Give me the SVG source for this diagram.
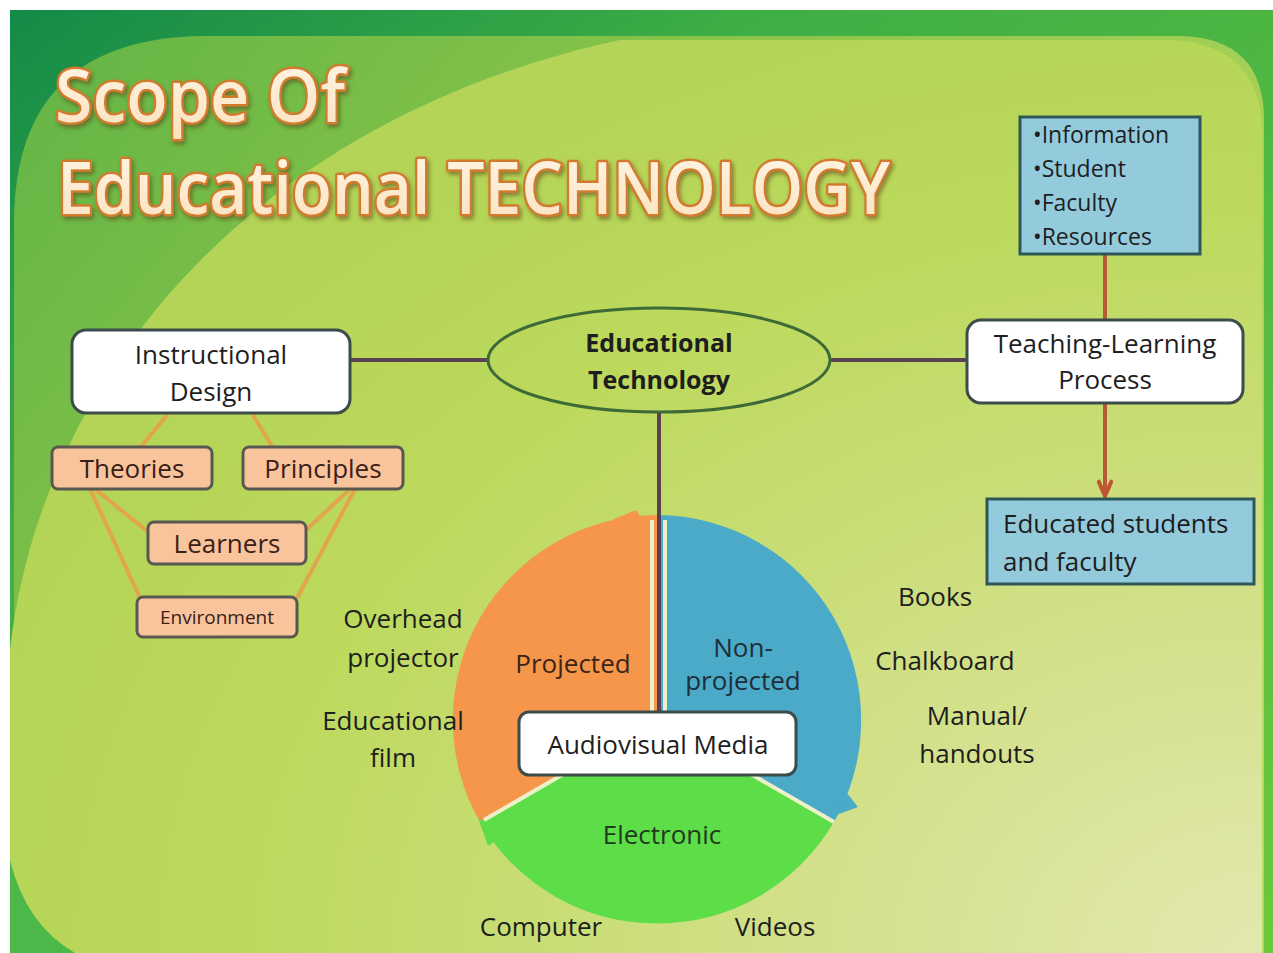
<svg xmlns="http://www.w3.org/2000/svg" width="1273" height="953" viewBox="0 0 1273 953">
<defs>
<linearGradient id="bgDark" x1="0" y1="0" x2="1" y2="1">
<stop offset="0" stop-color="#138a48"/>
<stop offset="0.3" stop-color="#3fae45"/>
<stop offset="1" stop-color="#6cc83c"/>
</linearGradient>
<linearGradient id="panelMid" x1="0" y1="0" x2="1" y2="0.6">
<stop offset="0" stop-color="#62b446"/>
<stop offset="0.45" stop-color="#8cc64a"/>
<stop offset="1" stop-color="#b8d860"/>
</linearGradient>
<radialGradient id="panelLight" cx="1" cy="1" r="1.1">
<stop offset="0" stop-color="#e3e8b0"/>
<stop offset="0.35" stop-color="#d2e088"/>
<stop offset="0.75" stop-color="#bcd95c"/>
<stop offset="1" stop-color="#b3d456"/>
</radialGradient>
<linearGradient id="titleFill" x1="0" y1="0" x2="0" y2="1">
<stop offset="0" stop-color="#fff8ea"/>
<stop offset="1" stop-color="#fbe0bc"/>
</linearGradient>
<filter id="shadow" x="-5%" y="-20%" width="110%" height="140%">
<feDropShadow dx="2" dy="3" stdDeviation="2" flood-color="#5a3a10" flood-opacity="0.55"/>
</filter>
<marker id="vhead" viewBox="0 0 20 16" refX="18" refY="8" markerWidth="20" markerHeight="16" markerUnits="userSpaceOnUse" orient="auto">
<path d="M2 1 L18 8 L2 15" fill="none" stroke="#c2552f" stroke-width="4"/>
</marker>
<style>
.t{font-family:"Open Sans","Noto Sans","Liberation Sans",sans-serif;fill:#1e1e1e;}
.title{font-family:"Open Sans","Noto Sans","Liberation Sans",sans-serif;font-size:72px;font-weight:600;fill:url(#titleFill);stroke:#d27a2e;stroke-width:5;stroke-linejoin:round;paint-order:stroke;}
.wbox{fill:#ffffff;stroke:#3c4b4b;stroke-width:3;}
.bbox{fill:#93cbdd;stroke:#2e5858;stroke-width:3;}
.pbox{fill:#f9c49c;stroke:#585850;stroke-width:3;}
.conn{stroke:#5b3f52;stroke-width:4;fill:none;}
.oline{stroke:#e2a54e;stroke-width:4;fill:none;}
.rline{stroke:#b85a3a;stroke-width:4;fill:none;}
.gap{stroke:#eef1c8;stroke-width:4;fill:none;}
</style>
</defs>

<!-- background -->
<g id="background">
<rect x="0" y="0" width="1273" height="953" fill="#ffffff"/>
<rect x="10" y="10" width="1263" height="943" fill="url(#bgDark)"/>
<path d="M14 953 L14 220 Q16 40 200 36 L1180 36 Q1264 38 1264 120 L1264 953 Z" fill="url(#panelMid)"/>
<path d="M10 953 L10 650 C40 380 250 120 620 40 L1170 40 Q1260 44 1262 130 L1262 953 Z" fill="url(#panelLight)"/>
<path d="M10 860 Q26 925 75 953 L10 953 Z" fill="#4db84a"/>
</g>

<!-- title -->
<g id="title" filter="url(#shadow)">
<text class="title" x="55" y="122" textLength="290" lengthAdjust="spacingAndGlyphs">Scope Of</text>
<text class="title" x="57" y="214" textLength="833" lengthAdjust="spacingAndGlyphs">Educational TECHNOLOGY</text>
</g>

<!-- connectors -->
<g id="connectors">
<line class="conn" x1="350" y1="360" x2="488" y2="360"/>
<line class="conn" x1="830" y1="360" x2="967" y2="360"/>
<line class="rline" x1="1105" y1="254" x2="1105" y2="320"/>
<line class="rline" x1="1105" y1="403" x2="1105" y2="496" marker-end="url(#vhead)"/>
<line class="oline" x1="167" y1="415" x2="140" y2="448"/>
<line class="oline" x1="253" y1="415" x2="273" y2="448"/>
<line class="oline" x1="95" y1="489" x2="148" y2="532"/>
<line class="oline" x1="90" y1="489" x2="140" y2="598"/>
<line class="oline" x1="350" y1="489" x2="306" y2="530"/>
<line class="oline" x1="355" y1="489" x2="297" y2="598"/>
</g>

<!-- pie / cycle -->
<g id="cycle">
<path d="M657 720 L480 822 A205 205 0 0 1 657 515 Z" fill="#f6964a"/>
<path d="M612 520 L636 510 L650 531 L636 538 Z" fill="#f6964a"/>
<path d="M657 720 L657 515 A205 205 0 0 1 834 822 Z" fill="#4aaac8"/>
<path d="M846 792 L858 807 L828 818 Z" fill="#4aaac8"/>
<path d="M657 720 L834 822 A205 205 0 0 1 480 822 Z" fill="#5ddd48"/>
<path d="M478 818 L488 846 L505 835 Z" fill="#5ddd48"/>
<line class="gap" x1="652" y1="520" x2="652" y2="715"/>
<line class="gap" x1="665" y1="520" x2="665" y2="715"/>
<line class="gap" x1="657" y1="720" x2="484" y2="820"/>
<line class="gap" x1="657" y1="720" x2="834" y2="822"/>
<line class="conn" x1="659" y1="412" x2="659" y2="712"/>
<text class="t" x="573" y="673" font-size="26" text-anchor="middle" style="fill:#3b2418">Projected</text>
<text class="t" x="743" y="657" font-size="26" text-anchor="middle" style="fill:#1e2e3a">Non-</text>
<text class="t" x="743" y="690" font-size="26" text-anchor="middle" style="fill:#1e2e3a">projected</text>
<text class="t" x="662" y="844" font-size="26" text-anchor="middle" style="fill:#1e3a1e">Electronic</text>
</g>

<g id="node-audiovisual">
<rect class="wbox" x="519" y="712" width="277" height="63" rx="10"/>
<text class="t" x="658" y="754" font-size="26" text-anchor="middle">Audiovisual Media</text>
</g>

<g id="node-edtech">
<ellipse cx="659" cy="360" rx="171" ry="52" fill="none" stroke="#3d6a36" stroke-width="3"/>
<text class="t" x="659" y="352" font-size="25" font-weight="bold" text-anchor="middle">Educational</text>
<text class="t" x="659" y="389" font-size="25" font-weight="bold" text-anchor="middle">Technology</text>
</g>

<g id="node-instructional">
<rect class="wbox" x="72" y="330" width="278" height="83" rx="14"/>
<text class="t" x="211" y="364" font-size="26" text-anchor="middle">Instructional</text>
<text class="t" x="211" y="401" font-size="26" text-anchor="middle">Design</text>
</g>

<g id="node-theories">
<rect class="pbox" x="52" y="447" width="160" height="42" rx="6"/>
<text class="t" x="132" y="478" font-size="26" text-anchor="middle" style="fill:#3a2018">Theories</text>
</g>
<g id="node-principles">
<rect class="pbox" x="243" y="447" width="160" height="42" rx="6"/>
<text class="t" x="323" y="478" font-size="26" text-anchor="middle" style="fill:#3a2018">Principles</text>
</g>
<g id="node-learners">
<rect class="pbox" x="148" y="522" width="158" height="42" rx="6"/>
<text class="t" x="227" y="553" font-size="26" text-anchor="middle" style="fill:#3a2018">Learners</text>
</g>
<g id="node-environment">
<rect class="pbox" x="137" y="597" width="160" height="40" rx="6"/>
<text class="t" x="217" y="624" font-size="19" text-anchor="middle" style="fill:#3a2018">Environment</text>
</g>

<g id="node-info">
<rect class="bbox" x="1020" y="117" width="180" height="137"/>
<text class="t" x="1033" y="143" font-size="23">•Information</text>
<text class="t" x="1033" y="177" font-size="23">•Student</text>
<text class="t" x="1033" y="211" font-size="23">•Faculty</text>
<text class="t" x="1033" y="245" font-size="23">•Resources</text>
</g>

<g id="node-tlp">
<rect class="wbox" x="967" y="320" width="276" height="83" rx="14"/>
<text class="t" x="1105" y="353" font-size="26" text-anchor="middle">Teaching-Learning</text>
<text class="t" x="1105" y="389" font-size="26" text-anchor="middle">Process</text>
</g>

<g id="node-educated">
<rect class="bbox" x="987" y="499" width="267" height="85"/>
<text class="t" x="1003" y="533" font-size="26">Educated students</text>
<text class="t" x="1003" y="571" font-size="26">and faculty</text>
</g>

<g id="labels">
<text class="t" x="403" y="628" font-size="26" text-anchor="middle">Overhead</text>
<text class="t" x="403" y="667" font-size="26" text-anchor="middle">projector</text>
<text class="t" x="393" y="730" font-size="26" text-anchor="middle">Educational</text>
<text class="t" x="393" y="767" font-size="26" text-anchor="middle">film</text>
<text class="t" x="935" y="606" font-size="26" text-anchor="middle">Books</text>
<text class="t" x="945" y="670" font-size="26" text-anchor="middle">Chalkboard</text>
<text class="t" x="977" y="725" font-size="26" text-anchor="middle">Manual/</text>
<text class="t" x="977" y="763" font-size="26" text-anchor="middle">handouts</text>
<text class="t" x="541" y="936" font-size="26" text-anchor="middle">Computer</text>
<text class="t" x="775" y="936" font-size="26" text-anchor="middle">Videos</text>
</g>
</svg>
